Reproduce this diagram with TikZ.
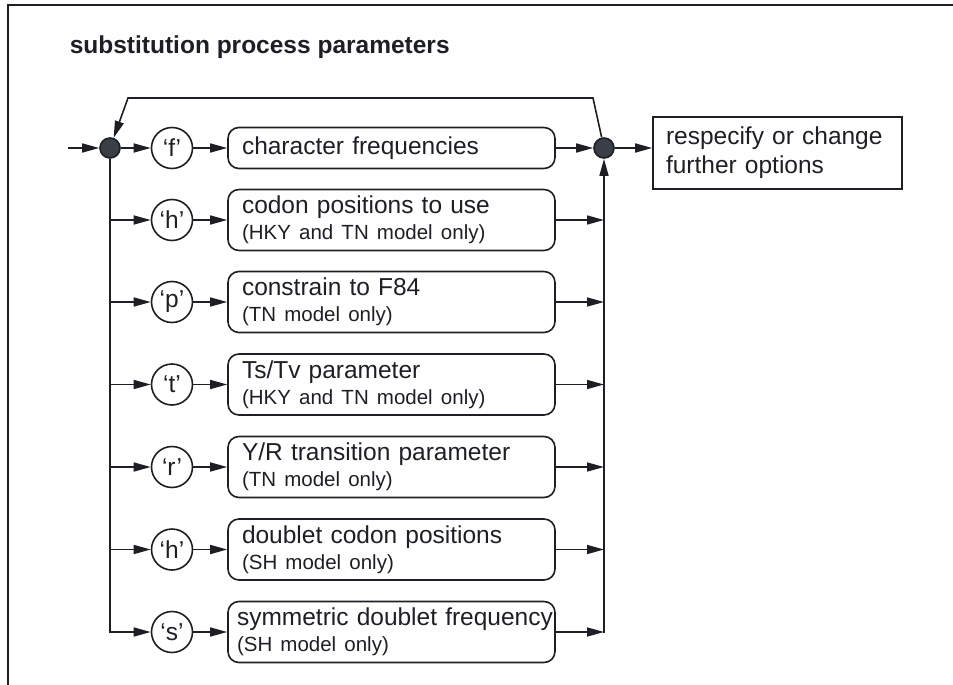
\documentclass[tikz,border=0pt]{standalone}
\usepackage{fontspec}
\setmainfont{Liberation Sans}
\usetikzlibrary{arrows.meta}
\definecolor{ink}{HTML}{1E1F24}
\definecolor{dotfill}{HTML}{3A3E47}
\newcommand{\mainsz}{\fontsize{24.5}{26}\selectfont}
\newcommand{\subsz}{\fontsize{20.5}{26}\selectfont}
\begin{document}
\begin{tikzpicture}[x=1pt,y=-1pt, line width=1.6pt, draw=ink, text=ink,
  arr/.style={-{Triangle[length=17pt,width=9pt]}, draw=ink},
  optbox/.style={draw=ink, rounded corners=11pt, minimum height=61pt, text width=299pt,
     inner xsep=14pt, inner ysep=0pt, align=left, font=\mainsz},
  selbox/.style={draw=ink, circle, minimum size=41pt, inner sep=0pt, font=\mainsz},
  junc/.style={draw=ink, circle, fill=dotfill, minimum size=20pt, inner sep=0pt},
  outbox/.style={draw=ink, rectangle, minimum width=249pt, minimum height=72pt,
     text width=223pt, inner xsep=13pt, align=left, font=\fontsize{24.5}{29}\selectfont}]
\useasboundingbox (0,0) rectangle (953,685);
% frame
\coordinate (fa) at (8,685);
\coordinate (fb) at (8,5);
\coordinate (fc) at (953,5);
\draw (fa) -- (fb) -- (fc);
% title
\node[anchor=base west, font=\bfseries\mainsz, inner sep=0pt] (title) at (69,54) {substitution process parameters};
% junctions
\node[junc] (L) at (110,148) {};
\node[junc] (R) at (604,148) {};
\coordinate (in) at (68,148);
% selectors
\node[selbox] (c1) at (172,148) {‘f’};
\node[selbox] (c2) at (172,220) {‘h’};
\node[selbox] (c3) at (172,302) {‘p’};
\node[selbox] (c4) at (172,384.5) {‘t’};
\node[selbox] (c5) at (172,467) {‘r’};
\node[selbox] (c6) at (172,549.5) {‘h’};
\node[selbox] (c7) at (172,632) {‘s’};
% option boxes
\node[optbox, minimum height=41pt] (b1) at (391.5,148) {character frequencies};
\node[optbox] (b2) at (391.5,220) {codon positions to use\\{\subsz (HKY and TN model only)}};
\node[optbox] (b3) at (391.5,302) {constrain to F84\\{\subsz (TN model only)}};
\node[optbox] (b4) at (391.5,384.5) {Ts/Tv parameter\\{\subsz (HKY and TN model only)}};
\node[optbox] (b5) at (391.5,467) {Y/R transition parameter\\{\subsz (TN model only)}};
\node[optbox] (b6) at (391.5,549.5) {doublet codon positions\\{\subsz (SH model only)}};
\node[optbox, text width=309pt, inner xsep=9pt] (b7) at (391.5,632) {\mbox{symmetric doublet frequency}\\{\subsz (SH model only)}};
% output box
\node[outbox] (ob) at (777.5,153) {respecify or change\\further options};
% feedback loop
\coordinate (fr) at (593,98);
\coordinate (fl) at (128,98);
\draw[arr] (R) -- (fr) -- (fl) -- (L);
% main row
\draw[arr] (in) -- (L);
\draw[arr] (L) -- (c1);
\draw[arr] (c1) -- (b1);
\draw[arr] (b1) -- (R);
\draw[arr] (R) -- (R -| ob.west);
% left distribution
\draw[arr] (L) |- (c7);
\foreach \i in {2,...,6} {\draw[arr] (L |- c\i) -- (c\i);}
\foreach \i in {2,...,7} {\draw[arr] (c\i) -- (b\i);}
% right collection
\foreach \i in {2,...,7} {\draw[arr] (b\i) -- (b\i -| R);}
\draw[arr, shorten <=-0.8pt] (b7 -| R) -- (R);
\end{tikzpicture}
\end{document}
